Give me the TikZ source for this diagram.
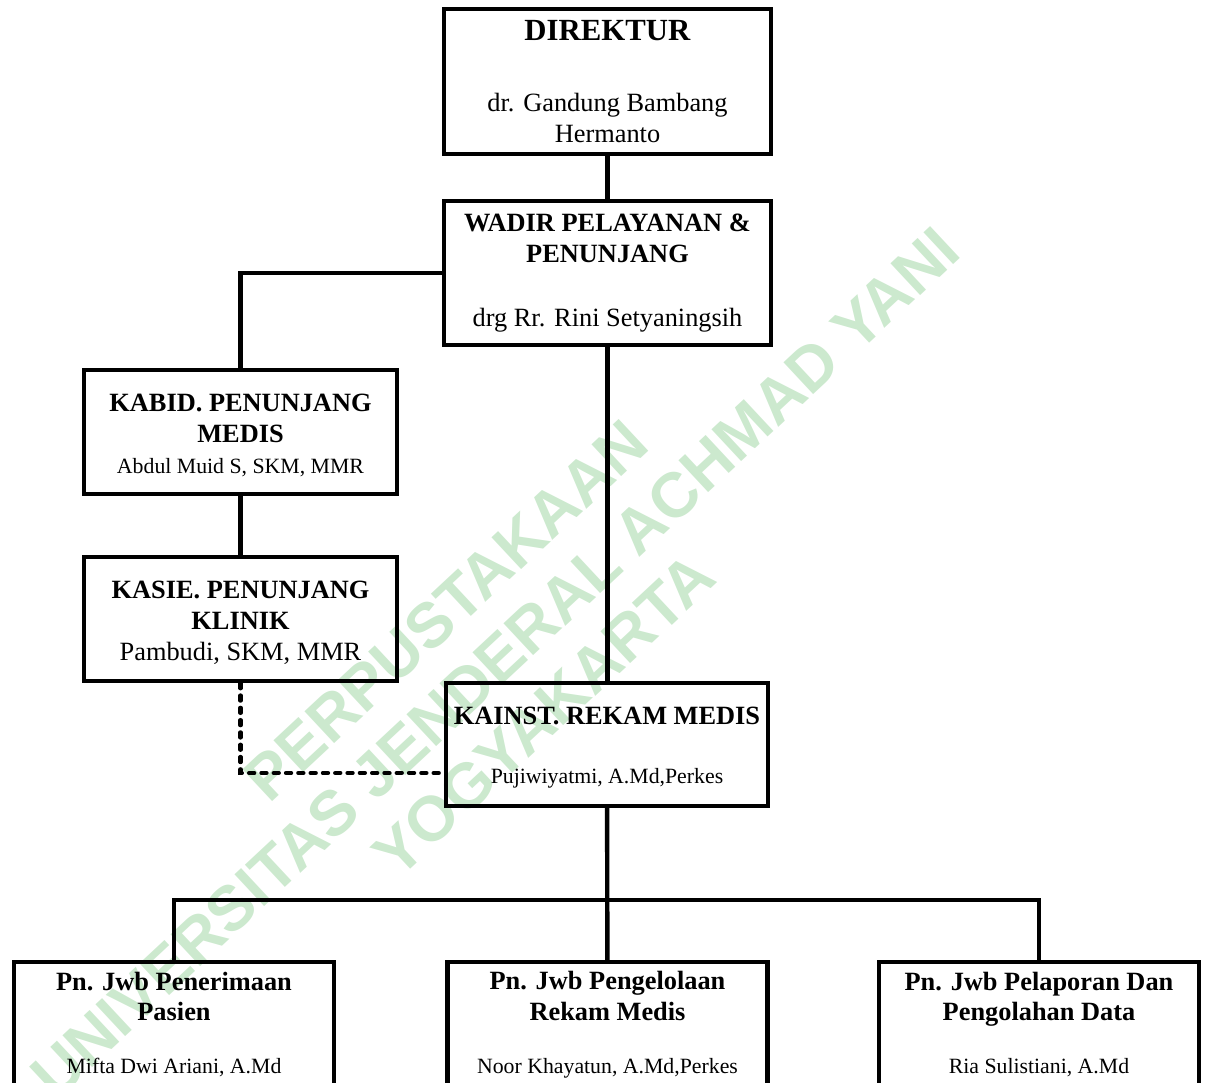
\documentclass[tikz,border=0pt]{standalone}
\usepackage{fontspec}
\setmainfont{Liberation Serif}
\newfontfamily\wmfont{Liberation Sans}
\usetikzlibrary{positioning,calc}
\definecolor{wmgreen}{RGB}{204,233,206}
\tikzset{
  orgbox/.style={draw=black, line width=2.4pt, align=center, inner sep=2pt,
                 font=\fontsize{15}{17.6}\selectfont},
  link/.style={line width=2.5pt, color=black},
  dotlink/.style={line width=2.3pt, line cap=round, dash pattern=on 3pt off 4pt, color=black}}
\newcommand{\smalltxt}[1]{{\fontsize{12.4}{17.6}\selectfont #1}}

\begin{document}
\begin{tikzpicture}[top/.style={minimum width=6.54cm, minimum height=2.89cm},
                    mid/.style={minimum width=6.26cm, minimum height=2.48cm},
                    low/.style={minimum width=6.4cm, minimum height=2.5cm}]
    \useasboundingbox (0,0) rectangle (24.12,-21.66);
    \clip (0,0) rectangle (24.12,-21.66);
    % watermark
    \node[text=wmgreen, rotate=43, align=center,
          font=\wmfont\bfseries\fontsize{36}{40.8}\selectfont] (wm) at (9.9,-13.25)
      {PERPUSTAKAAN\\UNIVERSITAS JENDERAL ACHMAD YANI\\YOGYAKARTA};
    \node[orgbox, top] (dir) at (12.15,-1.63)
      {{\fontsize{17.5}{17.6}\selectfont\textbf{DIREKTUR}}\\[23pt]
       dr. Gandung Bambang\\Hermanto};
    \node[orgbox, top] (wadir) at (12.15,-5.46)
      {\textbf{WADIR PELAYANAN \&}\\\textbf{PENUNJANG}\\[19pt]
       drg Rr. Rini Setyaningsih};
    \node[orgbox, mid] (kabid) at (4.81,-8.64)
      {\rule{0pt}{14pt}\textbf{KABID. PENUNJANG}\\\textbf{MEDIS}\\
       \smalltxt{Abdul Muid S, SKM, MMR}};
    \node[orgbox, mid] (kasie) at (4.81,-12.38)
      {\rule{0pt}{14pt}\textbf{KASIE. PENUNJANG}\\\textbf{KLINIK}\\
       Pambudi, SKM, MMR};
    \node[orgbox, minimum width=6.44cm, minimum height=2.46cm] (kainst) at (12.14,-14.89)
      {\rule{0pt}{14pt}\textbf{KAINST. REKAM MEDIS}\\[16pt]
       \smalltxt{Pujiwiyatmi, A.Md,Perkes}};
    \node[orgbox, low] (pn1) at (3.48,-20.49)
      {\textbf{Pn. Jwb Penerimaan}\\\textbf{Pasien}\\[12.5pt]
       \smalltxt{Mifta Dwi Ariani, A.Md}};
    \node[orgbox, low] (pn2) at (12.15,-20.49)
      {\textbf{Pn. Jwb Pengelolaan}\\\textbf{Rekam Medis}\\[12.5pt]
       \smalltxt{Noor Khayatun, A.Md,Perkes}};
    \node[orgbox, low] (pn3) at (20.78,-20.49)
      {\textbf{Pn. Jwb Pelaporan Dan}\\\textbf{Pengolahan Data}\\[12.5pt]
       \smalltxt{Ria Sulistiani, A.Md}};
    \coordinate (bus) at (12.15,-18.0);
    \draw[link] (dir) -- (wadir);
    \draw[link] (wadir.west) -| (kabid.north);
    \draw[link] (kabid) -- (kasie);
    \draw[link] (wadir.south) -- (wadir.south |- kainst.north);
    \draw[dotlink] (kasie.south) |- ($(kainst.west)+(0,-0.57)$);
    \draw[link] (kainst) -- (pn2);
    \draw[link] (pn1.north) |- (bus) -| (pn3.north);
  \end{tikzpicture}
\end{document}
